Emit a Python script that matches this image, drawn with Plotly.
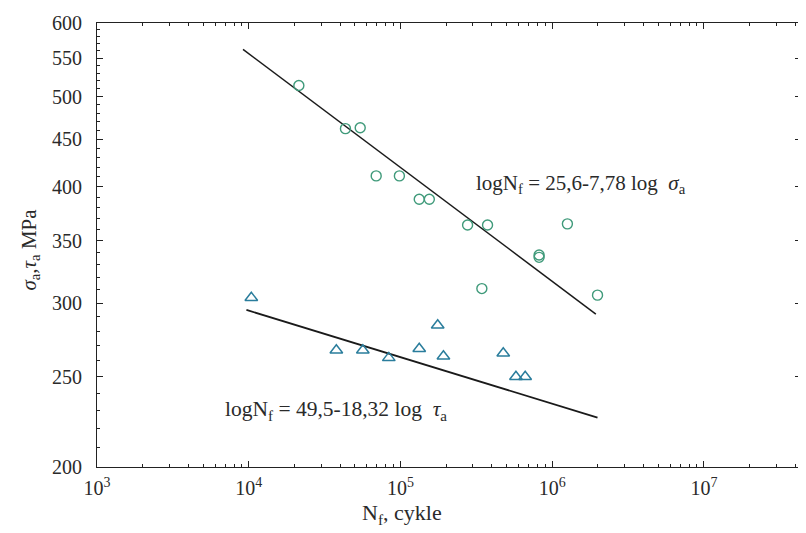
import plotly.graph_objects as go

# Data
sigma_N = [21400, 43400, 54300, 69200, 98400, 133000, 155000, 277000, 375000, 1260000, 820000, 820000, 344000, 1990000]
sigma_a = [514, 462, 463, 411, 411, 388, 388, 364, 364, 365, 336, 338, 311, 306]

tau_N = [10400, 37800, 56500, 83800, 133000, 176000, 192000, 476000, 577000, 664000]
tau_a = [304, 267, 267, 262, 268, 284, 263, 265, 250, 250]

fit_sigma_N = [9170, 1940000]
fit_sigma_a = [562, 292]
fit_tau_N = [9660, 1990000]
fit_tau_a = [295, 226]

x_tickvals = [1e3, 1e4, 1e5, 1e6, 1e7]
x_ticktext = ["10<sup>3</sup>", "10<sup>4</sup>", "10<sup>5</sup>", "10<sup>6</sup>", "10<sup>7</sup>"]
y_tickvals = [200, 250, 300, 350, 400, 450, 500, 550, 600]

FONT = "Liberation Serif"
TXT = "#2a2a2a"

fig = go.Figure()
fig.add_trace(go.Scatter(x=fit_sigma_N, y=fit_sigma_a, mode="lines",
                         line=dict(color="#1a1a1a", width=1.5), showlegend=False))
fig.add_trace(go.Scatter(x=fit_tau_N, y=fit_tau_a, mode="lines",
                         line=dict(color="#1a1a1a", width=1.8), showlegend=False))
fig.add_trace(go.Scatter(x=sigma_N, y=sigma_a, mode="markers",
                         marker=dict(symbol="circle-open", size=10, color="#3f9a7a", line=dict(width=1.4)),
                         showlegend=False))
fig.add_trace(go.Scatter(x=tau_N, y=tau_a, mode="markers",
                         marker=dict(symbol="triangle-up-open", size=11, color="#2a7d9c", line=dict(width=1.5)),
                         showlegend=False))

minor_y = [v for v in range(210, 600, 10) if v % 50 != 0]
minor_x = [d * 10 ** e for e in range(3, 8) for d in range(2, 10)]

fig.update_xaxes(type="log", range=[3, 7.64], tickvals=x_tickvals, ticktext=x_ticktext,
                 showline=True, linecolor="#222", linewidth=1.2, mirror="ticks",
                 ticks="inside", ticklen=6, tickcolor="#222", showgrid=False, zeroline=False,
                 tickfont=dict(family=FONT, size=20, color=TXT), ticklabelstandoff=3,
                 minor=dict(ticks="inside", ticklen=3, tickcolor="#222", tickvals=minor_x))
fig.update_yaxes(type="log", range=[2.30103, 2.778151], tickvals=y_tickvals,
                 showline=True, linecolor="#222", linewidth=1.2, mirror="ticks",
                 ticks="inside", ticklen=6, tickcolor="#222", showgrid=False, zeroline=False,
                 tickfont=dict(family=FONT, size=20, color=TXT), ticklabelstandoff=10,
                 minor=dict(ticks="inside", ticklen=3, tickcolor="#222", tickvals=minor_y))

fig.add_annotation(text="logN<sub>f</sub> = 25,6-7,78 log  <i>σ</i><sub>a</sub>",
                   x=0.688, y=0.637, xref="paper", yref="paper", showarrow=False,
                   xanchor="center", yanchor="middle",
                   font=dict(family=FONT, size=21, color=TXT))
fig.add_annotation(text="logN<sub>f</sub> = 49,5-18,32 log  <i>τ</i><sub>a</sub>",
                   x=0.339, y=0.128, xref="paper", yref="paper", showarrow=False,
                   xanchor="center", yanchor="middle",
                   font=dict(family=FONT, size=21.5, color=TXT))
fig.add_annotation(text="N<sub>f</sub>, cykle", x=0.433, y=-0.106, xref="paper", yref="paper",
                   showarrow=False, xanchor="center", yanchor="middle",
                   font=dict(family=FONT, size=22, color=TXT))
fig.add_annotation(text="<i>σ</i><sub>a</sub>,<i>τ</i><sub>a</sub> MPa", x=-0.095, y=0.49,
                   xref="paper", yref="paper", showarrow=False, textangle=-90,
                   xanchor="center", yanchor="middle",
                   font=dict(family=FONT, size=21, color=TXT))

# page body adds an 8px offset; size and margins compensate for it
fig.update_layout(width=798, height=525, margin=dict(l=89, r=4, t=13, b=66),
                  paper_bgcolor="white", plot_bgcolor="white")

fig.write_html("out.html")
